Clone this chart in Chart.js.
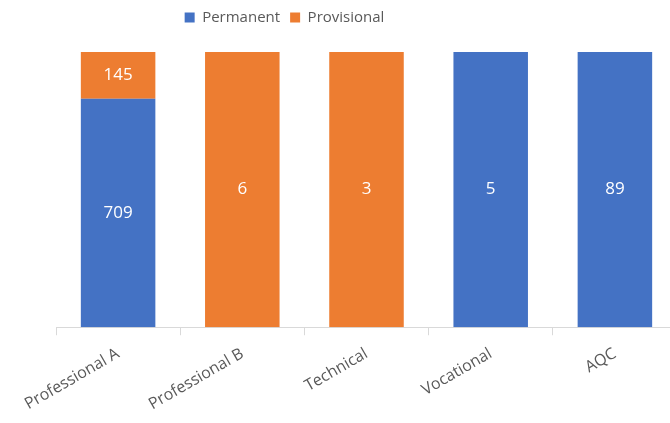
<!DOCTYPE html>
<html>
<head>
<meta charset="utf-8">
<script src="https://cdn.jsdelivr.net/npm/chart.js@4.4.0/dist/chart.umd.min.js"></script>
<style>
  html, body { margin: 0; padding: 0; background: #fff; overflow: hidden; }
  #wrap { width: 677px; height: 423px; }
</style>
</head>
<body>
<div id="wrap"><canvas id="myChart"></canvas></div>
<script>
var categories = ['Professional A', 'Professional B', 'Technical', 'Vocational', 'AQC'];
var permanent = [709, 0, 0, 5, 89];
var provisional = [145, 6, 3, 0, 0];

// 100% stacked: turn counts into shares, keep counts for the labels
function share(vals, i) {
	var total = permanent[i] + provisional[i];
	return total ? vals[i] / total * 100 : 0;
}
var permanentPct = permanent.map(function(v, i){ return share(permanent, i) });
var provisionalPct = provisional.map(function(v, i){ return share(provisional, i) });

var barLabels = {
	id: 'barLabels',
	afterDatasetsDraw: function(chart){
		var ctx = chart.ctx;
		var raw = [permanent, provisional];
		ctx.save();
		ctx.fillStyle = '#ffffff';
		ctx.font = '17px "Open Sans"';
		ctx.textAlign = 'center';
		ctx.textBaseline = 'middle';
		chart.data.datasets.forEach(function(ds, d){
			chart.getDatasetMeta(d).data.forEach(function(bar, i){
				if (!raw[d][i]) return;
				ctx.fillText(raw[d][i], bar.x, (bar.y + bar.base) / 2);
			});
		});
		ctx.restore();
	}
};

// push the plot down below the legend, and move the legend left like the original
var legendGap = {
	id: 'legendGap',
	beforeInit: function(chart){
		var fit = chart.legend.fit;
		chart.legend.fit = function(){
			fit.bind(chart.legend)();
			this.height += 17;
		};
	},
	afterLayout: function(chart){
		chart.legend.left -= 82;
		chart.legend.right -= 82;
	}
};

const ctx = document.getElementById('myChart');
new Chart(ctx, {
	type: 'bar',
	data: {
		labels: categories,
		datasets: [{
			label: 'Permanent',
			data: permanentPct,
			backgroundColor: '#4472C4',
			categoryPercentage: 1,
			barPercentage: 0.6
		}, {
			label: 'Provisional',
			data: provisionalPct,
			backgroundColor: '#ED7D31',
			categoryPercentage: 1,
			barPercentage: 0.6
		}]
	},
	options: {
		responsive: true,
		maintainAspectRatio: false,
		animation: false,
		layout: { padding: { top: 0, right: 0, bottom: 0, left: 56 } },
		plugins: {
			legend: {
				position: 'top',
				labels: {
					boxWidth: 10,
					boxHeight: 10,
					padding: 10,
					color: '#595959',
					font: { family: 'Open Sans', size: 15 }
				}
			},
			tooltip: { enabled: false }
		},
		scales: {
			x: {
				stacked: true,
				border: { color: '#d9d9d9' },
				grid: {
					offset: true,
					drawOnChartArea: false,
					color: '#d9d9d9',
					tickLength: 8
				},
				ticks: {
					color: '#595959',
					padding: 9,
					font: { family: 'Open Sans', size: 16 },
					minRotation: 30,
					maxRotation: 30
				}
			},
			y: {
				stacked: true,
				display: false,
				min: 0,
				max: 100
			}
		}
	},
	plugins: [barLabels, legendGap]
});
</script>
</body>
</html>
